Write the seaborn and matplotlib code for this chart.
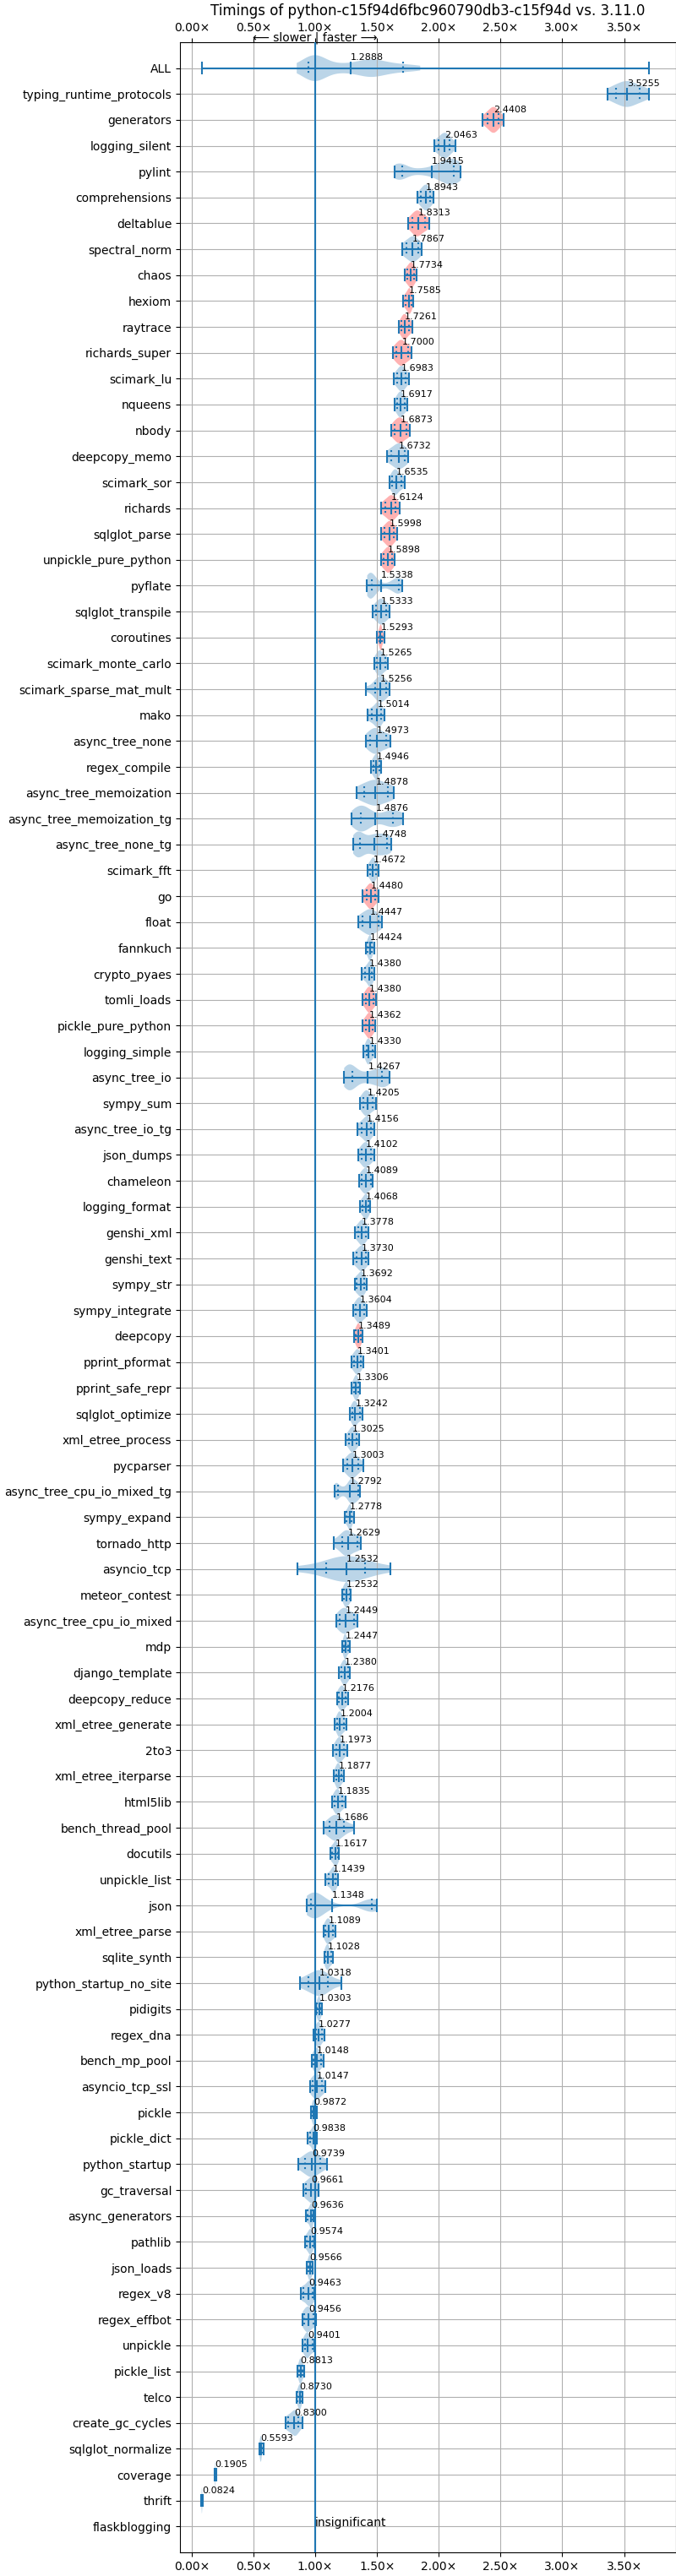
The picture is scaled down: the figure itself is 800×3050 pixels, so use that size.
import numpy as np
import pandas as pd
import matplotlib
matplotlib.use("Agg")
import matplotlib.pyplot as plt
import seaborn as sns
from matplotlib.ticker import FuncFormatter, MultipleLocator

TITLE = "Timings of python-c15f94d6fbc960790db3-c15f94d vs. 3.11.0"

names = [
    "ALL", "typing_runtime_protocols", "generators", "logging_silent", "pylint",
    "comprehensions", "deltablue", "spectral_norm", "chaos", "hexiom",
    "raytrace", "richards_super", "scimark_lu", "nqueens", "nbody",
    "deepcopy_memo", "scimark_sor", "richards", "sqlglot_parse", "unpickle_pure_python",
    "pyflate", "sqlglot_transpile", "coroutines", "scimark_monte_carlo", "scimark_sparse_mat_mult",
    "mako", "async_tree_none", "regex_compile", "async_tree_memoization", "async_tree_memoization_tg",
    "async_tree_none_tg", "scimark_fft", "go", "float", "fannkuch",
    "crypto_pyaes", "tomli_loads", "pickle_pure_python", "logging_simple", "async_tree_io",
    "sympy_sum", "async_tree_io_tg", "json_dumps", "chameleon", "logging_format",
    "genshi_xml", "genshi_text", "sympy_str", "sympy_integrate", "deepcopy",
    "pprint_pformat", "pprint_safe_repr", "sqlglot_optimize", "xml_etree_process", "pycparser",
    "async_tree_cpu_io_mixed_tg", "sympy_expand", "tornado_http", "asyncio_tcp", "meteor_contest",
    "async_tree_cpu_io_mixed", "mdp", "django_template", "deepcopy_reduce", "xml_etree_generate",
    "2to3", "xml_etree_iterparse", "html5lib", "bench_thread_pool", "docutils",
    "unpickle_list", "json", "xml_etree_parse", "sqlite_synth", "python_startup_no_site",
    "pidigits", "regex_dna", "bench_mp_pool", "asyncio_tcp_ssl", "pickle",
    "pickle_dict", "python_startup", "gc_traversal", "async_generators", "pathlib",
    "json_loads", "regex_v8", "regex_effbot", "unpickle", "pickle_list",
    "telco", "create_gc_cycles", "sqlglot_normalize", "coverage", "thrift",
    "flaskblogging",
]

med = [
    1.2888, 3.5255, 2.4408, 2.0463, 1.9415, 1.8943, 1.8313, 1.7867, 1.7734, 1.7585,
    1.7261, 1.7000, 1.6983, 1.6917, 1.6873, 1.6732, 1.6535, 1.6124, 1.5998, 1.5898,
    1.5338, 1.5333, 1.5293, 1.5265, 1.5256, 1.5014, 1.4973, 1.4946, 1.4878, 1.4876,
    1.4748, 1.4672, 1.4480, 1.4447, 1.4424, 1.4380, 1.4380, 1.4362, 1.4330, 1.4267,
    1.4205, 1.4156, 1.4102, 1.4089, 1.4068, 1.3778, 1.3730, 1.3692, 1.3604, 1.3489,
    1.3401, 1.3306, 1.3242, 1.3025, 1.3003, 1.2792, 1.2778, 1.2629, 1.2532, 1.2532,
    1.2449, 1.2447, 1.2380, 1.2176, 1.2004, 1.1973, 1.1877, 1.1835, 1.1686, 1.1617,
    1.1439, 1.1348, 1.1089, 1.1028, 1.0318, 1.0303, 1.0277, 1.0148, 1.0147, 0.9872,
    0.9838, 0.9739, 0.9661, 0.9636, 0.9574, 0.9566, 0.9463, 0.9456, 0.9401, 0.8813,
    0.8730, 0.8300, 0.5593, 0.1905, 0.0824, 1.0000,
]

lo = [
    0.080, 3.363, 2.353, 1.962, 1.645, 1.827, 1.752, 1.705, 1.723, 1.714,
    1.677, 1.630, 1.636, 1.641, 1.618, 1.580, 1.600, 1.534, 1.534, 1.534,
    1.420, 1.464, 1.500, 1.475, 1.409, 1.425, 1.409, 1.452, 1.336, 1.295,
    1.307, 1.423, 1.384, 1.348, 1.411, 1.377, 1.384, 1.384, 1.391, 1.234,
    1.361, 1.341, 1.350, 1.355, 1.364, 1.320, 1.307, 1.320, 1.307, 1.316,
    1.293, 1.295, 1.282, 1.245, 1.225, 1.157, 1.239, 1.152, 0.857, 1.220,
    1.170, 1.220, 1.193, 1.175, 1.159, 1.145, 1.152, 1.136, 1.066, 1.125,
    1.084, 0.932, 1.066, 1.073, 0.873, 1.005, 0.986, 0.975, 0.959, 0.966,
    0.941, 0.861, 0.907, 0.927, 0.916, 0.932, 0.881, 0.897, 0.897, 0.856,
    0.847, 0.762, 0.547, 0.186, 0.077, 0.996,
]

q1 = [
    0.948, 3.433, 2.395, 2.000, 1.701, 1.857, 1.789, 1.736, 1.743, 1.732,
    1.700, 1.659, 1.664, 1.664, 1.645, 1.618, 1.625, 1.566, 1.561, 1.555,
    1.459, 1.493, 1.516, 1.498, 1.482, 1.455, 1.441, 1.470, 1.395, 1.368,
    1.361, 1.441, 1.414, 1.384, 1.425, 1.402, 1.409, 1.407, 1.414, 1.300,
    1.386, 1.373, 1.375, 1.375, 1.380, 1.345, 1.334, 1.336, 1.330, 1.330,
    1.311, 1.311, 1.300, 1.273, 1.259, 1.186, 1.255, 1.216, 1.091, 1.232,
    1.198, 1.232, 1.214, 1.191, 1.180, 1.170, 1.168, 1.157, 1.118, 1.136,
    1.107, 0.966, 1.084, 1.084, 0.948, 1.016, 1.005, 0.989, 0.977, 0.975,
    0.955, 0.914, 0.925, 0.938, 0.932, 0.943, 0.902, 0.913, 0.916, 0.868,
    0.858, 0.783, 0.553, 0.189, 0.080, 0.998,
]

q3 = [
    1.708, 3.625, 2.482, 2.090, 2.123, 1.932, 1.886, 1.834, 1.800, 1.777,
    1.761, 1.750, 1.732, 1.725, 1.739, 1.727, 1.698, 1.652, 1.636, 1.623,
    1.675, 1.577, 1.539, 1.566, 1.573, 1.532, 1.573, 1.520, 1.589, 1.630,
    1.584, 1.489, 1.482, 1.509, 1.459, 1.459, 1.470, 1.464, 1.464, 1.539,
    1.466, 1.450, 1.450, 1.448, 1.430, 1.409, 1.409, 1.398, 1.398, 1.368,
    1.368, 1.350, 1.361, 1.334, 1.345, 1.345, 1.293, 1.339, 1.402, 1.277,
    1.311, 1.266, 1.266, 1.248, 1.232, 1.232, 1.214, 1.220, 1.232, 1.182,
    1.164, 1.455, 1.145, 1.130, 1.100, 1.045, 1.055, 1.045, 1.055, 1.000,
    1.000, 1.039, 1.000, 0.977, 0.977, 0.973, 0.977, 0.989, 0.977, 0.897,
    0.886, 0.863, 0.566, 0.193, 0.085, 1.002,
]

hi = [
    3.700, 3.700, 2.524, 2.133, 2.178, 1.957, 1.925, 1.864, 1.820, 1.795,
    1.784, 1.780, 1.761, 1.748, 1.766, 1.750, 1.727, 1.682, 1.664, 1.645,
    1.705, 1.602, 1.557, 1.589, 1.598, 1.557, 1.611, 1.536, 1.636, 1.709,
    1.618, 1.509, 1.509, 1.541, 1.475, 1.480, 1.495, 1.486, 1.486, 1.600,
    1.493, 1.477, 1.477, 1.466, 1.443, 1.430, 1.432, 1.414, 1.416, 1.380,
    1.386, 1.364, 1.380, 1.357, 1.386, 1.364, 1.311, 1.368, 1.607, 1.289,
    1.339, 1.277, 1.282, 1.266, 1.250, 1.259, 1.232, 1.243, 1.311, 1.193,
    1.186, 1.500, 1.164, 1.141, 1.214, 1.057, 1.073, 1.066, 1.080, 1.011,
    1.016, 1.095, 1.027, 0.989, 0.995, 0.982, 0.995, 1.007, 0.995, 0.909,
    0.897, 0.896, 0.582, 0.199, 0.088, 1.004,
]

red_benchmarks = [
    "generators", "deltablue", "chaos", "hexiom", "raytrace", "richards_super",
    "nbody", "richards", "sqlglot_parse", "unpickle_pure_python", "coroutines",
    "go", "tomli_loads", "pickle_pure_python", "deepcopy",
]
insignificant = ["flaskblogging"]

# Body sample points
all_body = [0.85, 0.90, 0.94, 0.96, 0.98, 0.99, 1.00, 1.00, 1.01, 1.02, 1.04,
            1.08, 1.13, 1.19, 1.25, 1.30, 1.35, 1.39, 1.42, 1.44, 1.46, 1.48,
            1.51, 1.55, 1.59, 1.64, 1.70, 1.77, 1.85]
pylint_body = [1.645, 1.67, 1.69, 1.72, 1.85, 1.95, 2.00, 2.04, 2.07, 2.09,
               2.11, 2.13, 2.16, 2.178]
pyflate_body = [1.42, 1.43, 1.44, 1.44, 1.45, 1.46, 1.47, 1.49, 1.53, 1.60,
                1.64, 1.66, 1.67, 1.69, 1.705]
json_body = [0.932, 0.95, 0.97, 0.98, 0.99, 1.00, 1.00, 1.01, 1.03, 1.06,
             1.135, 1.40, 1.44, 1.46, 1.48, 1.50]
async_tree_io_body = [1.234, 1.25, 1.27, 1.28, 1.30, 1.32, 1.36, 1.42, 1.46,
                      1.50, 1.53, 1.55, 1.58, 1.60]
atcim_tg_body = [1.157, 1.17, 1.18, 1.22, 1.26, 1.28, 1.29, 1.30, 1.31, 1.33,
                 1.345, 1.364]
atm_tg_body = [1.295, 1.32, 1.35, 1.37, 1.39, 1.41, 1.44, 1.49, 1.56, 1.60,
               1.63, 1.67, 1.709]
atn_tg_body = [1.307, 1.33, 1.35, 1.37, 1.40, 1.44, 1.475, 1.50, 1.53, 1.56,
               1.59, 1.618]
special_bodies = {
    "ALL": all_body, "pylint": pylint_body, "pyflate": pyflate_body,
    "json": json_body, "async_tree_io": async_tree_io_body,
    "async_tree_cpu_io_mixed_tg": atcim_tg_body,
    "async_tree_memoization_tg": atm_tg_body, "async_tree_none_tg": atn_tg_body,
}

# ---- long-form data for the violin bodies ----
reg_rows, sp_rows = [], []
for i, n in enumerate(names):
    if n in special_bodies:
        for v in special_bodies[n]:
            sp_rows.append((n, v))
    else:
        pts = [lo[i], q1[i], q1[i], med[i], med[i], med[i], med[i], q3[i], q3[i], hi[i]]
        for v in pts:
            reg_rows.append((n, v))
df_reg = pd.DataFrame(reg_rows, columns=["bench", "value"])
df_sp = pd.DataFrame(sp_rows, columns=["bench", "value"])

pal = {n: ("#ff0000" if n in red_benchmarks else "#1f77b4") for n in names}

W, H = 800, 3050
fig = plt.figure(figsize=(W / 100, H / 100), dpi=100)
ax = fig.add_axes([213 / W, 28 / H, 587 / W, 2972 / H])

common = dict(x="value", y="bench", order=names, hue="bench", hue_order=names,
              palette=pal, legend=False, density_norm="width", width=1.0, cut=0,
              inner=None, linewidth=0, saturation=1, ax=ax)
sns.violinplot(data=df_reg, bw_adjust=1.0, **common)
sns.violinplot(data=df_sp, bw_adjust=0.55, **common)
for c in ax.collections:
    fc = c.get_facecolor()
    if len(fc):
        c.set_facecolor((fc[0][0], fc[0][1], fc[0][2], 0.3))
    c.set_edgecolor("none")

n = len(names)
idx = [i for i, nm in enumerate(names) if nm not in insignificant]
ypos = np.array(idx, dtype=float)
lo_a = np.array([lo[i] for i in idx])
hi_a = np.array([hi[i] for i in idx])
q1_a = np.array([q1[i] for i in idx])
q3_a = np.array([q3[i] for i in idx])
md_a = np.array([med[i] for i in idx])

col = "#1f77b4"
ax.hlines(ypos, lo_a, hi_a, color=col, lw=1.5, zorder=3)
ax.vlines(lo_a, ypos - 0.25, ypos + 0.25, color=col, lw=1.5, zorder=3)
ax.vlines(hi_a, ypos - 0.25, ypos + 0.25, color=col, lw=1.5, zorder=3)
ax.vlines(md_a, ypos - 0.25, ypos + 0.25, color=col, lw=1.5, zorder=3)
ax.vlines(q1_a, ypos - 0.25, ypos + 0.25, color=col, lw=1.5, linestyles=":", zorder=3)
ax.vlines(q3_a, ypos - 0.25, ypos + 0.25, color=col, lw=1.5, linestyles=":", zorder=3)

ax.axvline(1.0, color=col, lw=1.5, zorder=3)

for i, nm in enumerate(names):
    if nm in insignificant:
        ax.text(1.0, i, "insignificant", fontsize=10, va="baseline", ha="left")
    else:
        ax.text(med[i], i - 0.3, f"{med[i]:.4f}", fontsize=8, va="baseline", ha="left")

ax.set_ylim(n, -1)
ax.set_xlim(-0.095, 3.92)
ax.xaxis.set_major_locator(MultipleLocator(0.5))
ax.xaxis.set_major_formatter(FuncFormatter(lambda v, p: f"{v:.2f}\u00d7"))
ax.tick_params(axis="x", top=True, labeltop=True, bottom=True, labelbottom=True)
ax.tick_params(axis="both", labelsize=10)
ax.set_xlabel("")
ax.set_ylabel("")
ax.grid(True)

ax.text(1.0, 1.0 + 2 / 2972, "\u27f5 slower | faster \u27f6", transform=ax.get_xaxis_transform(),
        ha="center", va="baseline", fontsize=10)
ax.set_title(TITLE, fontsize=12)

fig.savefig("out.png", dpi=100)
